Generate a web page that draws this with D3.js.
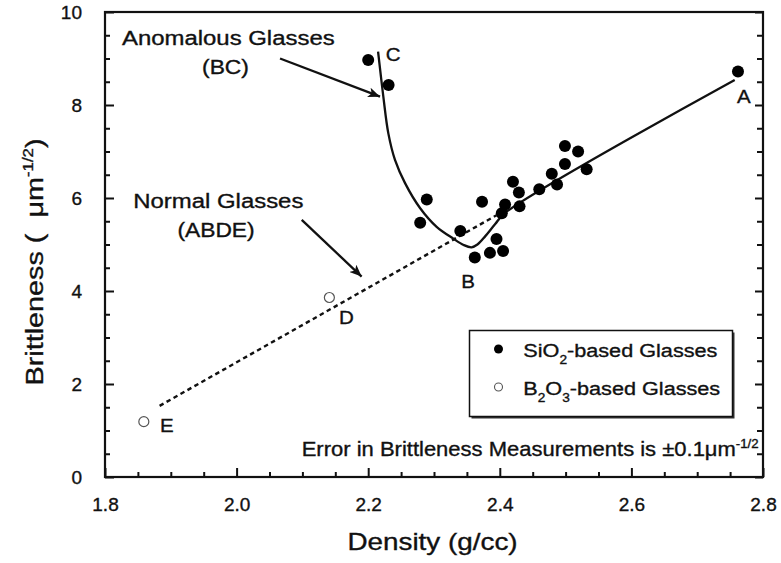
<!DOCTYPE html>
<html>
<head>
<meta charset="utf-8">
<script src="https://cdn.jsdelivr.net/npm/d3@7"></script>
<style>
  html, body { margin: 0; padding: 0; background: #fff; }
  svg { display: block; }
  text { font-family: "Liberation Sans", Arial, Helvetica, sans-serif; fill: #111; stroke: #111; stroke-width: 0.35px; }
</style>
</head>
<body>
<svg id="chart" width="781" height="563"></svg>
<script>
// ---------------- data ----------------
const xTickValues = [1.8, 2.0, 2.2, 2.4, 2.6, 2.8];
const yTickValues = [0, 2, 4, 6, 8, 10];
const xMinorTicks = [1.85,1.9,1.95,2.05,2.1,2.15,2.25,2.3,2.35,2.45,2.5,2.55,2.65,2.7,2.75];
const yMinorTicks = [0.5,1,1.5,2.5,3,3.5,4.5,5,5.5,6.5,7,7.5,8.5,9,9.5];

// SiO2-based glasses (filled circles)
const sio2Density     = [2.200, 2.231, 2.279, 2.289, 2.340, 2.362, 2.373, 2.385, 2.395, 2.405, 2.403, 2.408, 2.420, 2.429, 2.430, 2.460, 2.479, 2.487, 2.499, 2.499, 2.519, 2.532, 2.762];
const sio2Brittleness = [8.97, 8.43, 5.47, 5.97, 5.29, 4.72, 5.92, 4.82, 5.12, 4.86, 5.67, 5.86, 6.35, 6.12, 5.82, 6.19, 6.52, 6.29, 6.73, 7.12, 7.00, 6.62, 8.72];

// B2O3-based glasses (open circles)
const b2o3Density     = [2.141, 1.859];
const b2o3Brittleness = [3.86, 1.19];

// Solid curve C -> B -> A
const curveDensity     = [2.215, 2.223, 2.2306, 2.2407, 2.256, 2.279, 2.304, 2.329, 2.345, 2.357, 2.366, 2.378, 2.393, 2.408, 2.757];
const curveBrittleness = [9.15, 8.18, 7.39, 6.82, 6.32, 5.78, 5.38, 5.13, 4.99, 4.94, 5.00, 5.18, 5.44, 5.68, 8.54];

// Dashed line E -> D -> B
const dashDensity     = [1.883, 2.395];
const dashBrittleness = [1.53, 5.63];

// Point labels (baseline positions)
const pointLabels  = ["A", "B", "C", "D", "E"];
const labelDensity = [2.771, 2.352, 2.238, 2.167, 1.894];
const labelBritt   = [8.04, 4.06, 8.95, 3.28, 0.97];

// Arrows [startDensity, startBritt, endDensity, endBritt]
const arrowAnomalous = [2.066, 9.00, 2.218, 8.18];
const arrowNormal    = [2.099, 5.53, 2.190, 4.31];

// Annotation text anchors [density, brittleness(baseline)]
const noteAnomalous  = [1.9874, 9.29];
const noteBC         = [1.9831, 8.67];
const noteNormal     = [1.9722, 5.78];
const noteABDE       = [1.9687, 5.16];

// ---------------- chart ----------------
const svg = d3.select("#chart");
const x = d3.scaleLinear().domain([1.8, 2.8]).range([105, 763]);
const y = d3.scaleLinear().domain([0, 10]).range([477, 12]);

const SX = 1.14;

function stretchedText(px, py, size, anchor, sx) {
  const g = svg.append("g").attr("transform", `translate(${px},${py}) scale(${sx},1)`);
  return g.append("text").attr("x", 0).attr("y", 0)
    .attr("font-size", size).attr("text-anchor", anchor);
}

function styleAxis(g) {
  g.select(".domain").remove();
  g.selectAll(".tick line").attr("stroke", "#111").attr("stroke-width", 2);
  g.selectAll(".tick text").attr("font-size", 19)
    .attr("font-family", '"Liberation Sans", Arial, sans-serif').attr("fill", "#111");
}
svg.append("g").attr("transform", "translate(0,477)")
  .call(d3.axisBottom(x).tickValues(xTickValues).tickSize(-9).tickPadding(21).tickFormat(d3.format(".1f")))
  .call(styleAxis);
svg.append("g").attr("transform", "translate(0,477)")
  .call(d3.axisBottom(x).tickValues(xMinorTicks).tickSize(-5).tickFormat(""))
  .call(styleAxis);
svg.append("g").attr("transform", "translate(105,0)")
  .call(d3.axisLeft(y).tickValues(yTickValues).tickSize(-9).tickPadding(23).tickFormat(d3.format("d")))
  .call(styleAxis);
svg.append("g").attr("transform", "translate(105,0)")
  .call(d3.axisLeft(y).tickValues(yMinorTicks).tickSize(-5).tickFormat(""))
  .call(styleAxis);
svg.append("g").attr("transform", "translate(763,0)")
  .call(d3.axisRight(y).tickValues(yTickValues).tickSize(-8).tickFormat(""))
  .call(styleAxis);
svg.append("g").attr("transform", "translate(763,0)")
  .call(d3.axisRight(y).tickValues(yMinorTicks).tickSize(-6).tickFormat(""))
  .call(styleAxis);

// frame
svg.append("rect").attr("x", x(1.8)).attr("y", y(10))
  .attr("width", x(2.8) - x(1.8)).attr("height", y(0) - y(10))
  .attr("fill", "none").attr("stroke", "#111").attr("stroke-width", 2.2);

// dashed line
const dashData = dashDensity.map((d, i) => [d, dashBrittleness[i]]);
svg.append("path").datum(dashData)
  .attr("d", d3.line().x(d => x(d[0])).y(d => y(d[1])))
  .attr("fill", "none").attr("stroke", "#111").attr("stroke-width", 2.4)
  .attr("stroke-dasharray", "4.5,3.5");

// solid curve
const curveData = curveDensity.map((d, i) => [d, curveBrittleness[i]]);
svg.append("path").datum(curveData)
  .attr("d", d3.line().x(d => x(d[0])).y(d => y(d[1])).curve(d3.curveCatmullRom.alpha(0.5)))
  .attr("fill", "none").attr("stroke", "#111").attr("stroke-width", 2.3)
  .attr("stroke-linejoin", "round");

// points
svg.append("g").selectAll("circle")
  .data(sio2Density.map((d, i) => [d, sio2Brittleness[i]]))
  .join("circle")
  .attr("cx", d => x(d[0])).attr("cy", d => y(d[1])).attr("r", 6)
  .attr("fill", "#000");
svg.append("g").selectAll("circle")
  .data(b2o3Density.map((d, i) => [d, b2o3Brittleness[i]]))
  .join("circle")
  .attr("cx", d => x(d[0])).attr("cy", d => y(d[1])).attr("r", 5)
  .attr("fill", "#fff").attr("stroke", "#555").attr("stroke-width", 1.2);

// point labels
pointLabels.forEach((t, i) => {
  stretchedText(x(labelDensity[i]), y(labelBritt[i]), 19, "middle", 1.08).text(t);
});

// arrows
const defs = svg.append("defs");
defs.append("marker").attr("id", "ah").attr("viewBox", "0 0 12 10")
  .attr("refX", 12).attr("refY", 5).attr("markerWidth", 12).attr("markerHeight", 10)
  .attr("markerUnits", "userSpaceOnUse").attr("orient", "auto")
  .append("path").attr("d", "M0,0 L12,5 L0,10 L3,5 Z").attr("fill", "#111");
[arrowAnomalous, arrowNormal].forEach(a => {
  svg.append("line")
    .attr("x1", x(a[0])).attr("y1", y(a[1])).attr("x2", x(a[2])).attr("y2", y(a[3]))
    .attr("stroke", "#111").attr("stroke-width", 2.3).attr("marker-end", "url(#ah)");
});

// annotation texts
stretchedText(x(noteAnomalous[0]), y(noteAnomalous[1]), 21, "middle", SX).text("Anomalous Glasses");
stretchedText(x(noteBC[0]), y(noteBC[1]), 20, "middle", SX).text("(BC)");
stretchedText(x(noteNormal[0]), y(noteNormal[1]), 21, "middle", SX).text("Normal Glasses");
stretchedText(x(noteABDE[0]), y(noteABDE[1]), 20, "middle", SX).text("(ABDE)");

// error note
const err = stretchedText(301.7, 456, 20, "start", 1.1);
err.append("tspan").text("Error in Brittleness Measurements is \u00b10.1\u03bcm");
err.append("tspan").attr("font-size", 12).attr("dy", -8).text("-1/2");

// legend
const lg = svg.append("g");
lg.append("rect").attr("x", 471.5).attr("y", 332.5).attr("width", 263).attr("height", 86)
  .attr("fill", "#333");
lg.append("rect").attr("x", 469.5).attr("y", 330.5).attr("width", 263).attr("height", 86)
  .attr("fill", "#fff").attr("stroke", "#111").attr("stroke-width", 1.5);
lg.append("circle").attr("cx", 498.5).attr("cy", 349).attr("r", 4.5).attr("fill", "#000");
lg.append("circle").attr("cx", 498.5).attr("cy", 387).attr("r", 4).attr("fill", "#fff")
  .attr("stroke", "#555").attr("stroke-width", 1.1);
const l1 = stretchedText(523.3, 356.5, 19, "start", SX);
l1.append("tspan").text("SiO");
l1.append("tspan").attr("font-size", 12).attr("dy", 7).text("2");
l1.append("tspan").attr("dy", -7).text("-based Glasses");
const l2 = stretchedText(523.3, 395, 19, "start", SX);
l2.append("tspan").text("B");
l2.append("tspan").attr("font-size", 12).attr("dy", 7).text("2");
l2.append("tspan").attr("dy", -7).text("O");
l2.append("tspan").attr("font-size", 12).attr("dy", 7).text("3");
l2.append("tspan").attr("dy", -7).text("-based Glasses");

// axis titles
stretchedText(432.5, 550, 24, "middle", 1.16).text("Density (g/cc)");
const yt = svg.append("g").attr("transform", "translate(43,262) rotate(-90) scale(1.2,1)")
  .append("text").attr("font-size", 24).attr("text-anchor", "middle");
yt.append("tspan").text("Brittleness (\u00a0\u00a0\u03bcm");
yt.append("tspan").attr("font-size", 14).attr("dy", -10).text("-1/2");
yt.append("tspan").attr("dy", 10).text(")");
</script>
</body>
</html>
